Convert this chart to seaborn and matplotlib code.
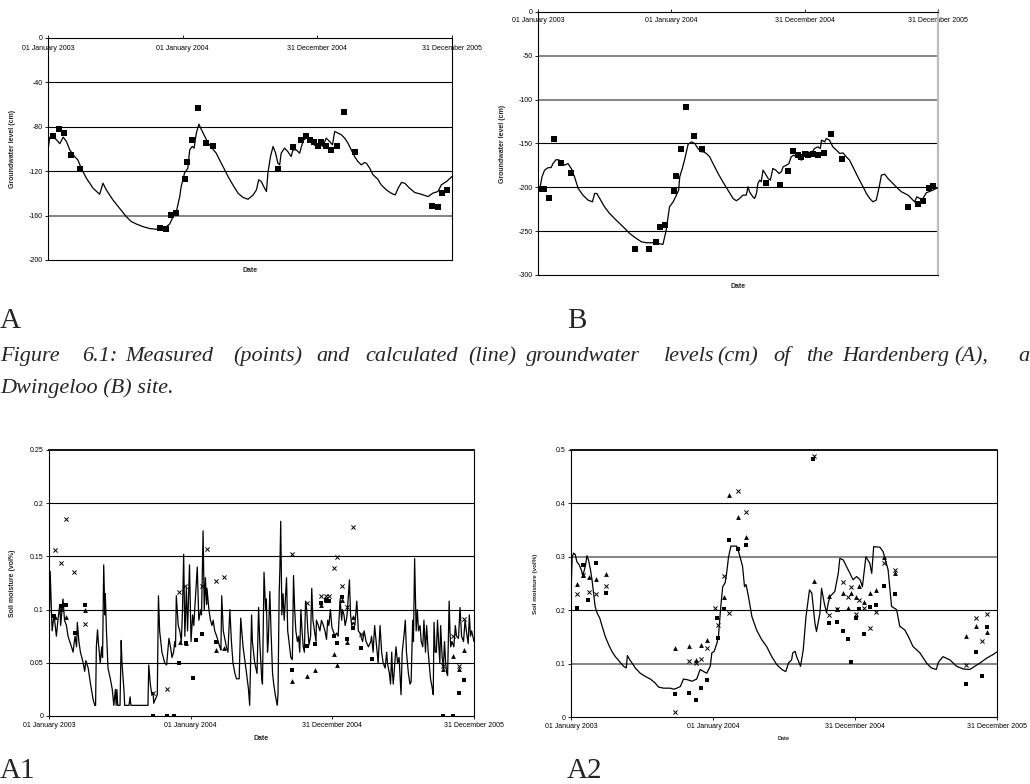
import numpy as np
import pandas as pd
import matplotlib
matplotlib.use("Agg")
import matplotlib.pyplot as plt
import seaborn as sns

START = pd.Timestamp("2003-01-01")
END = pd.Timestamp("2005-12-31")

tick_dates = ["2003-01-01", "2004-01-01", "2004-12-31", "2005-12-31"]
tick_labels = ["01 January 2003", "01 January 2004", "31 December 2004", "31 December 2005"]

# ---------------- Panel A: Hardenberg groundwater level (cm) ----------------
a_line_day = [0, 5, 14, 27, 32, 41, 50, 59, 72, 81, 90, 104, 122, 140, 149, 158, 176, 194, 212, 226,
              239, 257, 276, 294, 303, 321, 330, 339, 348, 357, 361, 370, 379, 384, 391, 396, 402, 409,
              416, 425, 434, 447, 456, 465, 479, 488, 501, 515, 528, 542, 556, 565, 571, 578, 587, 592,
              596, 603, 610, 617, 623, 628, 632, 641, 650, 659, 664, 673, 682, 687, 693, 700, 709, 718,
              727, 736, 745, 754, 763, 771, 777, 786, 795, 804, 813, 822, 831, 840, 849, 858, 863, 872,
              881, 894, 903, 917, 930, 941, 949, 958, 967, 980, 994, 1012, 1030, 1043, 1057, 1066, 1080, 1095]
a_line_val = [-100.8, -89.3, -88.7, -93.2, -95.3, -89.3, -93.2, -100.8, -106.8, -109.8, -117.3, -126.3,
              -135.3, -140.8, -130.8, -136.8, -145.9, -153.4, -160.9, -165.4, -167.5, -169.9, -171.7,
              -172.3, -171.1, -169.9, -167.5, -160.9, -156.4, -142.9, -133.8, -121.8, -117.3, -100.8,
              -97.7, -99.2, -85.7, -77.6, -82.7, -88.7, -94.7, -100.2, -103.8, -109.8, -118.8, -124.8,
              -132.3, -139.8, -143.5, -145.3, -141.4, -136.8, -127.8, -129.3, -135.3, -138.3, -121.8,
              -106.8, -97.7, -103.8, -112.8, -114.3, -103.8, -99.2, -102.3, -106.8, -100.8, -100.8,
              -103.8, -97.7, -91.7, -90.2, -91.7, -95.3, -97.7, -95.3, -97.7, -90.2, -93.2, -96.2,
              -84.2, -85.7, -87.2, -90.2, -94.7, -100.8, -106.8, -111.3, -114.3, -112.2, -112.8, -117.3,
              -123.3, -127.2, -132.3, -136.8, -139.8, -141.4, -135.3, -130.2, -130.8, -135.3, -139.2,
              -140.8, -142.9, -139.8, -138.3, -132.3, -129.3, -124.8]
a_obs_day = [14, 30, 43, 63, 88, 303, 321, 334, 348, 370, 377, 391, 407, 427, 448, 623, 664, 685, 698,
             711, 720, 733, 739, 753, 767, 782, 803, 831, 1040, 1056, 1069, 1082]
a_obs_val = [-88.1, -82.1, -86.0, -105.3, -117.9, -170.8, -172.0, -159.1, -157.9, -127.2, -111.3, -92.0,
             -63.2, -95.0, -97.7, -117.9, -98.6, -92.0, -88.1, -92.0, -94.1, -97.7, -94.1, -97.7,
             -101.1, -97.7, -67.1, -102.3, -151.0, -151.9, -139.8, -136.8]

# ---------------- Panel B: Dwingeloo groundwater level (cm) ----------------
b_line_day = [0, 6, 11, 18, 27, 36, 41, 50, 59, 67, 73, 82, 91, 100, 110, 123, 137, 149, 155, 161, 169,
              182, 196, 214, 233, 251, 269, 283, 297, 315, 328, 342, 351, 360, 370, 379, 385, 388, 395,
              401, 411, 420, 429, 438, 447, 453, 461, 470, 479, 493, 506, 520, 534, 543, 552, 561, 570,
              575, 579, 588, 593, 598, 602, 607, 611, 616, 622, 630, 636, 643, 651, 660, 666, 671, 680,
              687, 693, 700, 707, 716, 721, 725, 730, 739, 748, 757, 766, 773, 776, 785, 789, 798, 807,
              817, 826, 835, 844, 853, 862, 871, 880, 890, 899, 908, 917, 926, 935, 940, 949, 958, 967,
              976, 985, 995, 1004, 1013, 1022, 1031, 1037, 1045, 1054, 1063, 1072, 1081, 1095]
b_line_val = [-200.2, -199.4, -188.0, -180.4, -177.7, -177.4, -172.8, -168.3, -169.0, -172.8, -174.7,
              -172.8, -178.5, -188.0, -201.3, -208.9, -214.6, -216.5, -207.0, -207.0, -212.7, -222.2,
              -229.8, -237.4, -245.0, -252.6, -258.3, -262.1, -263.2, -263.2, -264.0, -265.1, -248.8,
              -222.2, -216.5, -208.9, -203.2, -188.0, -178.5, -169.0, -150.8, -148.1, -150.0, -155.7,
              -159.5, -159.5, -161.4, -165.2, -172.8, -184.2, -193.7, -203.2, -212.7, -215.3, -212.7,
              -208.9, -208.9, -199.4, -205.1, -210.8, -212.7, -207.0, -195.6, -191.8, -193.7, -180.4,
              -184.2, -189.9, -191.8, -178.5, -180.4, -184.2, -182.3, -176.6, -174.7, -172.8, -165.2,
              -163.3, -165.2, -167.1, -169.0, -165.2, -161.4, -159.5, -161.4, -155.7, -153.8, -155.7,
              -146.2, -148.1, -144.3, -146.2, -153.8, -157.6, -161.4, -160.7, -165.2, -169.0, -176.6,
              -184.2, -191.8, -199.4, -207.0, -212.7, -216.5, -214.6, -197.5, -186.1, -185.0, -189.9,
              -193.7, -197.5, -201.3, -205.1, -207.0, -208.9, -212.7, -216.5, -210.8, -212.7, -212.7,
              -206.2, -204.7, -203.2, -200.2]
b_obs_day = [5, 16, 30, 44, 64, 89, 265, 303, 322, 335, 349, 371, 377, 392, 406, 427, 448, 623, 663, 684,
             699, 713, 721, 732, 740, 754, 767, 782, 802, 831, 1013, 1039, 1055, 1069, 1082]
b_obs_val = [-202.4, -202.1, -212.3, -145.1, -172.0, -184.2, -270.0, -270.0, -262.1, -245.3, -243.1,
             -204.3, -186.9, -156.1, -108.2, -141.3, -156.5, -195.2, -197.9, -181.5, -158.4, -163.3,
             -165.2, -162.2, -163.3, -162.2, -162.9, -161.0, -139.4, -168.2, -222.9, -219.1, -216.1,
             -201.3, -199.0]

# ---------------- Panel A1: soil moisture (vol%) ----------------
a1_line_day = [0, 3, 8, 13, 19, 23, 28, 30, 36, 40, 45, 49, 58, 62, 67, 71, 73, 77, 81, 88, 92, 95, 101,
               107, 114, 118, 120, 122, 125, 127, 132, 136, 138, 141, 144, 145, 148, 152, 158, 163, 167,
               171, 173, 175, 177, 183, 186, 188, 193, 195, 206, 209, 211, 255, 257, 261, 265, 268, 270,
               273, 279, 282, 285, 291, 298, 303, 309, 313, 317, 321, 324, 326, 328, 333, 337, 341, 344,
               347, 350, 354, 357, 362, 366, 370, 373, 382, 386, 391, 393, 397, 400, 403, 406, 407, 412,
               416, 420, 423, 427, 432, 436, 440, 443, 445, 449, 457, 461, 466, 470, 474, 479, 483, 490,
               494, 500, 509, 514, 517, 522, 524, 530, 536, 540, 543, 548, 550, 554, 558, 560, 563, 565,
               569, 572, 576, 579, 583, 588, 590, 593, 595, 597, 600, 603, 606, 609, 612, 615, 619, 623,
               627, 630, 633, 636, 640, 643, 646, 649, 652, 655, 658, 661, 664, 667, 670, 674, 677, 680,
               684, 688, 689, 694, 698, 702, 707, 711, 715, 718, 721, 725, 729, 732, 737, 741, 745, 750,
               754, 756, 760, 763, 767, 769, 774, 777, 780, 784, 788, 793, 797, 801, 808, 812, 817, 823,
               829, 831, 835, 839, 844, 848, 853, 857, 861, 866, 870, 872, 877, 880, 883, 885, 887, 891,
               894, 898, 902, 907, 910, 915, 918, 921, 926, 930, 933, 937, 939, 942, 946, 949, 952, 956,
               959, 963, 966, 970, 973, 977, 983, 988, 990, 992, 995, 998, 1001, 1004, 1007, 1009, 1013,
               1016, 1019, 1022, 1025, 1027, 1031, 1033, 1035, 1038, 1043, 1047, 1050, 1055, 1059, 1063,
               1068, 1072, 1076, 1080, 1083, 1086, 1089, 1095]
a1_line_val = [0.070, 0.136, 0.080, 0.095, 0.075, 0.090, 0.105, 0.085, 0.110, 0.090, 0.085, 0.075, 0.065,
               0.060, 0.075, 0.065, 0.088, 0.070, 0.060, 0.050, 0.042, 0.052, 0.045, 0.030, 0.015, 0.010,
               0.010, 0.065, 0.081, 0.070, 0.050, 0.065, 0.055, 0.142, 0.095, 0.115, 0.080, 0.045, 0.035,
               0.025, 0.010, 0.025, 0.010, 0.025, 0.010, 0.010, 0.071, 0.050, 0.025, 0.010, 0.010, 0.018,
               0.010, 0.010, 0.048, 0.030, 0.020, 0.022, 0.012, 0.015, 0.020, 0.113, 0.080, 0.060, 0.050,
               0.048, 0.073, 0.065, 0.055, 0.060, 0.070, 0.065, 0.113, 0.085, 0.080, 0.070, 0.100, 0.152,
               0.075, 0.120, 0.080, 0.142, 0.070, 0.095, 0.085, 0.140, 0.090, 0.100, 0.095, 0.174, 0.100,
               0.130, 0.105, 0.120, 0.100, 0.090, 0.085, 0.090, 0.080, 0.075, 0.070, 0.065, 0.062, 0.113,
               0.080, 0.065, 0.060, 0.100, 0.070, 0.050, 0.040, 0.035, 0.035, 0.092, 0.065, 0.040, 0.025,
               0.010, 0.095, 0.070, 0.050, 0.040, 0.102, 0.070, 0.035, 0.030, 0.135, 0.100, 0.110, 0.060,
               0.070, 0.117, 0.080, 0.040, 0.030, 0.020, 0.010, 0.020, 0.115, 0.140, 0.183, 0.095, 0.115,
               0.090, 0.110, 0.130, 0.080, 0.068, 0.055, 0.053, 0.132, 0.100, 0.080, 0.070, 0.075, 0.060,
               0.100, 0.080, 0.065, 0.060, 0.108, 0.100, 0.080, 0.067, 0.075, 0.120, 0.090, 0.080, 0.070,
               0.090, 0.085, 0.080, 0.090, 0.085, 0.080, 0.072, 0.090, 0.085, 0.100, 0.083, 0.080, 0.075,
               0.078, 0.075, 0.110, 0.090, 0.100, 0.095, 0.085, 0.092, 0.100, 0.128, 0.095, 0.085, 0.088,
               0.085, 0.108, 0.080, 0.078, 0.070, 0.080, 0.070, 0.065, 0.070, 0.075, 0.060, 0.085, 0.065,
               0.050, 0.085, 0.060, 0.050, 0.045, 0.060, 0.050, 0.040, 0.030, 0.060, 0.040, 0.030, 0.050,
               0.065, 0.050, 0.055, 0.020, 0.060, 0.077, 0.090, 0.060, 0.040, 0.030, 0.032, 0.090, 0.070,
               0.148, 0.080, 0.100, 0.080, 0.085, 0.070, 0.065, 0.090, 0.060, 0.085, 0.060, 0.035, 0.025,
               0.020, 0.088, 0.060, 0.060, 0.090, 0.068, 0.050, 0.085, 0.055, 0.045, 0.070, 0.050, 0.040,
               0.038, 0.108, 0.080, 0.065, 0.070, 0.065, 0.085, 0.075, 0.073, 0.102, 0.075, 0.070, 0.090,
               0.078, 0.068, 0.095, 0.075, 0.080, 0.070]
a1_sq_day = [13, 30, 45, 66, 92, 268, 303, 322, 336, 352, 372, 379, 395, 429, 625, 665, 686, 701, 713,
             722, 734, 741, 755, 769, 784, 804, 832, 1014, 1042, 1057, 1070]
a1_sq_val = [0.094, 0.103, 0.104, 0.078, 0.104, 0.0, 0.0, 0.0, 0.050, 0.069, 0.036, 0.071, 0.077, 0.070,
             0.043, 0.066, 0.068, 0.106, 0.109, 0.108, 0.075, 0.069, 0.112, 0.072, 0.083, 0.064, 0.054,
             0.0, 0.0, 0.022, 0.034]
a1_tri_day = [16, 32, 45, 92, 337, 352, 429, 450, 625, 665, 686, 701, 713, 734, 741, 755, 769, 784,
              1014, 1042, 1057, 1070]
a1_tri_val = [0.093, 0.101, 0.093, 0.100, 0.070, 0.069, 0.062, 0.064, 0.033, 0.038, 0.043, 0.104, 0.109,
              0.058, 0.048, 0.109, 0.070, 0.093, 0.044, 0.056, 0.044, 0.062]
a1_x_day = [16, 32, 45, 65, 92, 268, 303, 336, 350, 393, 408, 429, 450, 625, 665, 701, 713, 722, 734,
            741, 755, 769, 784, 804, 1014, 1042, 1057, 1070]
a1_x_val = [0.156, 0.144, 0.185, 0.135, 0.086, 0.022, 0.025, 0.117, 0.122, 0.122, 0.157, 0.127, 0.131,
            0.152, 0.106, 0.113, 0.113, 0.113, 0.139, 0.149, 0.122, 0.102, 0.178, 0.077, 0.047, 0.075,
            0.047, 0.091]

# ---------------- Panel A2: soil moisture (vol%) ----------------
a2_line_day = [0, 3, 7, 11, 15, 21, 26, 31, 37, 41, 45, 50, 54, 58, 62, 67, 74, 80, 88, 97, 105, 114,
               127, 135, 142, 145, 151, 157, 165, 178, 191, 204, 216, 225, 238, 255, 264, 272, 281, 289,
               298, 311, 323, 332, 341, 349, 358, 362, 368, 375, 379, 385, 390, 396, 400, 405, 411, 426,
               433, 441, 446, 450, 456, 465, 477, 490, 503, 516, 529, 542, 552, 559, 567, 570, 576, 580,
               590, 597, 604, 613, 619, 627, 631, 640, 644, 651, 657, 661, 666, 678, 687, 691, 700, 708,
               717, 725, 734, 743, 749, 758, 768, 773, 778, 794, 802, 815, 824, 837, 845, 858, 867, 879,
               897, 914, 926, 939, 944, 956, 974, 991, 1008, 1025, 1038, 1051, 1068, 1085, 1095]
a2_line_val = [0.232, 0.300, 0.307, 0.304, 0.291, 0.285, 0.276, 0.266, 0.283, 0.302, 0.294, 0.276, 0.257,
               0.232, 0.207, 0.195, 0.185, 0.170, 0.151, 0.135, 0.123, 0.113, 0.102, 0.095, 0.092, 0.115,
               0.107, 0.101, 0.092, 0.082, 0.076, 0.071, 0.064, 0.056, 0.054, 0.054, 0.052, 0.054, 0.057,
               0.071, 0.070, 0.067, 0.071, 0.089, 0.085, 0.082, 0.095, 0.120, 0.123, 0.138, 0.151, 0.207,
               0.244, 0.251, 0.269, 0.300, 0.320, 0.320, 0.304, 0.282, 0.244, 0.248, 0.226, 0.188, 0.163,
               0.145, 0.132, 0.113, 0.098, 0.089, 0.085, 0.101, 0.107, 0.120, 0.123, 0.113, 0.095, 0.126,
               0.188, 0.238, 0.232, 0.176, 0.160, 0.195, 0.241, 0.213, 0.195, 0.213, 0.226, 0.235, 0.269,
               0.297, 0.294, 0.282, 0.269, 0.257, 0.263, 0.257, 0.244, 0.300, 0.288, 0.269, 0.319, 0.318,
               0.310, 0.276, 0.207, 0.201, 0.170, 0.163, 0.151, 0.132, 0.120, 0.101, 0.092, 0.089, 0.102,
               0.113, 0.107, 0.095, 0.090, 0.089, 0.095, 0.101, 0.110, 0.117, 0.122]
a2_sq_day = [15, 31, 44, 64, 91, 267, 303, 322, 335, 349, 375, 379, 392, 407, 429, 449, 623, 664, 685,
             699, 713, 721, 733, 740, 754, 768, 784, 804, 832, 1015, 1040, 1056, 1070]
a2_sq_val = [0.204, 0.285, 0.219, 0.289, 0.233, 0.043, 0.045, 0.032, 0.055, 0.069, 0.185, 0.148, 0.203,
             0.332, 0.314, 0.322, 0.483, 0.176, 0.177, 0.161, 0.147, 0.103, 0.185, 0.203, 0.156, 0.206,
             0.209, 0.246, 0.231, 0.062, 0.122, 0.077, 0.169]
a2_tri_day = [15, 31, 45, 65, 91, 267, 303, 322, 335, 350, 392, 407, 429, 449, 624, 664, 685, 699, 713,
              721, 733, 740, 754, 768, 784, 804, 832, 1015, 1040, 1070]
a2_tri_val = [0.249, 0.266, 0.263, 0.259, 0.267, 0.129, 0.133, 0.107, 0.135, 0.145, 0.224, 0.416, 0.375,
              0.337, 0.254, 0.226, 0.202, 0.233, 0.204, 0.233, 0.225, 0.246, 0.216, 0.232, 0.237, 0.299,
              0.270, 0.151, 0.170, 0.159]
a2_x_day = [15, 31, 45, 64, 91, 267, 303, 322, 335, 350, 370, 379, 392, 407, 429, 449, 624, 664, 685,
            699, 713, 721, 733, 740, 754, 768, 784, 804, 832, 1015, 1040, 1056, 1070]
a2_x_val = [0.231, 0.266, 0.234, 0.230, 0.246, 0.009, 0.104, 0.102, 0.108, 0.129, 0.204, 0.172, 0.264,
            0.194, 0.423, 0.383, 0.489, 0.191, 0.203, 0.252, 0.224, 0.244, 0.193, 0.219, 0.205, 0.166,
            0.197, 0.288, 0.276, 0.098, 0.186, 0.142, 0.192]

# ---------------- Caption text ----------------
panel_letters = ["A", "B", "A1", "A2"]
caption_line1 = ["Figure", "6.1:", "Measured", "(points)", "and", "calculated", "(line)", "groundwater",
                 "levels", "(cm)", "of", "the", "Hardenberg", "(A),", "a"]
caption_line2 = "Dwingeloo (B) site."
caption_x = [0, 82, 125, 233, 316, 365, 468, 526, 664, 717, 773, 806, 842, 954, 1018]


def dates(days):
    return START + pd.to_timedelta(np.asarray(days, dtype=float), unit="D")


sns.set_style("white")
plt.rcParams["font.family"] = ["Liberation Sans", "DejaVu Sans"]
plt.rcParams["axes.unicode_minus"] = False

W, H = 1030, 784
fig = plt.figure(figsize=(W / 100, H / 100), dpi=100)


def rect(l, t, r, b):
    return [l / W, 1 - b / H, (r - l) / W, (b - t) / H]


axA = fig.add_axes(rect(48, 38, 452, 260))
axB = fig.add_axes(rect(538, 12, 938, 275))
axA1 = fig.add_axes(rect(49, 450, 474, 716))
axA2 = fig.add_axes(rect(571, 450, 997, 717))

LW = 0.9
FS = 5
GRAY_GRID = "#707070"


def common(ax, ylim, yticks, ylabel, ylab_x, date_y, gray_lines=(), date_fs=FS):
    ax.set_xlim(START, END)
    ax.set_ylim(*ylim)
    ax.set_yticks(yticks)
    ax.set_yticklabels([f"{t:g}" for t in yticks])
    ax.set_xticks(pd.to_datetime(tick_dates))
    ax.set_xticklabels(tick_labels)
    ax.grid(False)
    for t in yticks:
        if ylim[0] < t < ylim[1]:
            if t in gray_lines:
                ax.axhline(t, color=GRAY_GRID, lw=1.2, zorder=0.5)
            else:
                ax.axhline(t, color="black", lw=0.8, zorder=0.5)
    for s in ax.spines.values():
        s.set_color("black")
        s.set_linewidth(0.8)
        s.set_visible(True)
    ax.tick_params(axis="y", left=True, direction="out", length=2, width=0.6, pad=2,
                   labelsize=FS, colors="black")
    ax.set_ylabel(ylabel, fontsize=FS, fontweight="bold")
    ax.yaxis.set_label_coords(ylab_x, 0.5)
    ax.set_xlabel("Date", fontsize=date_fs, fontweight="bold")
    ax.xaxis.set_label_position("bottom")
    ax.xaxis.set_label_coords(0.5, date_y)


def draw_points(ax, day, val, marker, size):
    if marker == "x":
        sns.scatterplot(x=dates(day), y=val, ax=ax, marker="x", s=size, color="black",
                        linewidth=0.7, zorder=4)
    else:
        sns.scatterplot(x=dates(day), y=val, ax=ax, marker=marker, s=size, color="black",
                        edgecolor="black", linewidth=0, zorder=4)


# Panel A
sns.lineplot(x=dates(a_line_day), y=a_line_val, ax=axA, color="black", lw=LW, zorder=3)
draw_points(axA, a_obs_day, a_obs_val, "s", 13)
common(axA, (-200, 0), [-200, -160, -120, -80, -40, 0], "Groundwater level (cm)", -31.5 / 404,
       -7.5 / 222, gray_lines=(-160,))
axA.tick_params(axis="x", bottom=False, top=True, labelbottom=False, labeltop=True,
                direction="out", length=2, width=0.6, pad=-12, labelsize=FS, colors="black")

# Panel B
sns.lineplot(x=dates(b_line_day), y=b_line_val, ax=axB, color="black", lw=LW, zorder=3)
draw_points(axB, b_obs_day, b_obs_val, "s", 13)
common(axB, (-300, 0), [-300, -250, -200, -150, -100, -50, 0], "Groundwater level (cm)",
       -31.5 / 400, -8.5 / 263, gray_lines=(-50, -100))
axB.spines["right"].set_color("#bdbdbd")
axB.spines["right"].set_linewidth(1.6)
axB.tick_params(axis="x", bottom=False, top=True, labelbottom=False, labeltop=True,
                direction="out", length=2, width=0.6, pad=-10.5, labelsize=FS, colors="black")

# Panel A1
sns.lineplot(x=dates(a1_line_day), y=a1_line_val, ax=axA1, color="black", lw=LW, zorder=3)
draw_points(axA1, a1_sq_day, a1_sq_val, "s", 12)
draw_points(axA1, a1_tri_day, a1_tri_val, "^", 12)
draw_points(axA1, a1_x_day, a1_x_val, "x", 9)
common(axA1, (0, 0.25), [0, 0.05, 0.1, 0.15, 0.2, 0.25], "Soil moisture (vol%)", -32.5 / 425,
       -18.5 / 266)
axA1.spines["top"].set_linewidth(1.3)
axA1.tick_params(axis="x", bottom=True, top=False, labelbottom=True, labeltop=False,
                 direction="out", length=2, width=0.6, pad=2.5, labelsize=FS, colors="black")

# Panel A2
sns.lineplot(x=dates(a2_line_day), y=a2_line_val, ax=axA2, color="black", lw=LW, zorder=3)
draw_points(axA2, a2_sq_day, a2_sq_val, "s", 12)
draw_points(axA2, a2_tri_day, a2_tri_val, "^", 12)
draw_points(axA2, a2_x_day, a2_x_val, "x", 9)
common(axA2, (0, 0.5), [0, 0.1, 0.2, 0.3, 0.4, 0.5], "Soil moisture (vol%)", -33 / 426, -19 / 267,
       gray_lines=(0.1, 0.3), date_fs=4)
axA2.spines["top"].set_linewidth(1.3)
axA2.tick_params(axis="x", bottom=True, top=False, labelbottom=True, labeltop=False,
                 direction="out", length=2, width=0.6, pad=2.5, labelsize=FS, colors="black")
axA2.yaxis.label.set_fontsize(4.5)

# Panel letters and caption
serif = ["Liberation Serif", "DejaVu Serif"]
letter_pos = [(0, 328), (567, 328), (0, 778), (567, 778)]
for txt, (px, py) in zip(panel_letters, letter_pos):
    fig.text(px / W, 1 - py / H, txt, family=serif, fontsize=21, va="baseline", ha="left")
for word, px in zip(caption_line1, caption_x):
    fig.text(px / W, 1 - 361 / H, word, family=serif, style="italic", fontsize=16,
             va="baseline", ha="left")
fig.text(0, 1 - 393 / H, caption_line2, family=serif, style="italic", fontsize=16,
         va="baseline", ha="left")

fig.savefig("out.png", dpi=100, facecolor="white")
